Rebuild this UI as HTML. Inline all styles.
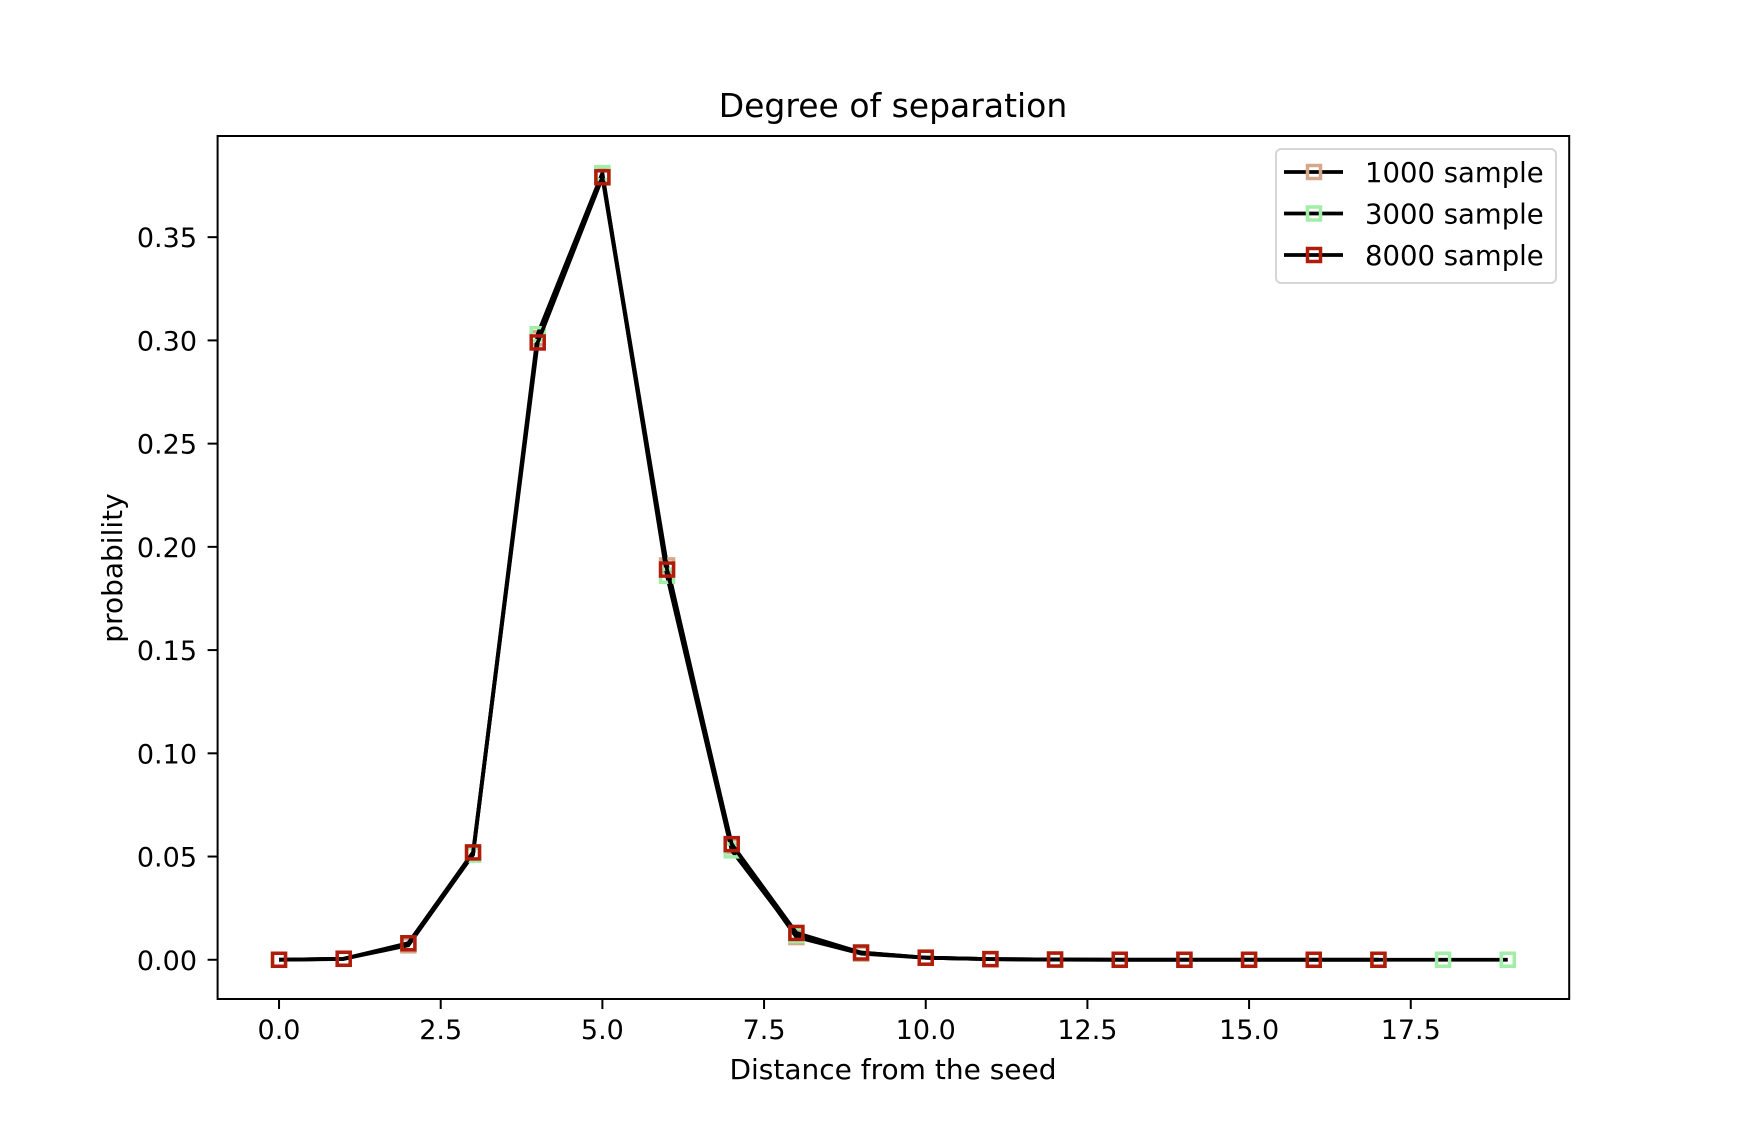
<!DOCTYPE html>
<html><head><meta charset="utf-8"><style>
html,body{margin:0;padding:0;background:#fff}
svg{display:block;font-family:"DejaVu Sans","Liberation Sans",sans-serif}
</style></head><body>
<svg id="chart" width="1744" height="1122" viewBox="0 0 1744 1122">
<rect width="1744" height="1122" fill="#fff"/>
<text x="893" y="117" font-size="33" text-anchor="middle">Degree of separation</text>
<g id="series"></g>
<rect x="217.6" y="136" width="1351.6" height="863" fill="none" stroke="#000" stroke-width="2"/>
<g id="xticks"></g><g id="yticks"></g>
<text x="893" y="1079" font-size="28" text-anchor="middle">Distance from the seed</text>
<text x="0" y="0" font-size="28" text-anchor="middle" transform="translate(122,568) rotate(-90)">probability</text>
<g id="legend"></g>
</svg>
<script>
const xs = [0,1,2,3,4,5,6,7,8,9,10,11,12,13,14,15,16,17,18,19];
const s1000 = [0,0.0005,0.007,0.051,0.301,0.380,0.191,0.055,0.011,0.003,0.001,0.0003,0.0001,0,0,0,0,0];
const s3000 = [0,0.0004,0.008,0.051,0.303,0.381,0.186,0.053,0.012,0.0035,0.001,0.0003,0.0001,0,0,0,0,0,0,0];
const s8000 = [0,0.0005,0.008,0.052,0.299,0.379,0.189,0.056,0.013,0.0035,0.001,0.0003,0.0001,0,0,0,0,0];
const xTickVals = [0,2.5,5,7.5,10,12.5,15,17.5];
const xTickLabels = ["0.0","2.5","5.0","7.5","10.0","12.5","15.0","17.5"];
const yTickVals = [0,0.05,0.10,0.15,0.20,0.25,0.30,0.35];
const yTickLabels = ["0.00","0.05","0.10","0.15","0.20","0.25","0.30","0.35"];
const seriesNames = ["1000 sample","3000 sample","8000 sample"];
const seriesColors = ["#d2a98a","#a0eea8","#b01b0b"];

const NS="http://www.w3.org/2000/svg";
const X0=217.6,X1=1569.2,Y0=999,Y1=136;
const xmin=-0.95,xmax=19.95,ymin=-0.019,ymax=0.399;
function sx(v){return X0+(v-xmin)/(xmax-xmin)*(X1-X0);}
function sy(v){return Y0-(v-ymin)/(ymax-ymin)*(Y0-Y1);}
function mk(tag,attrs,parent){const e=document.createElementNS(NS,tag);for(const k in attrs)e.setAttribute(k,attrs[k]);parent.appendChild(e);return e;}
const xt=document.getElementById('xticks'),yt=document.getElementById('yticks');
xTickVals.forEach((v,i)=>{
  const l=mk('line',{x1:sx(v),x2:sx(v),y1:Y0,y2:Y0+10,stroke:'#000','stroke-width':2},xt);
  
  
  const t=mk('text',{x:sx(v),y:1039,'font-size':27,'text-anchor':'middle'},xt);
  t.textContent=xTickLabels[i];
  
  
});
yTickVals.forEach((v,i)=>{
  const l=mk('line',{x1:X0-10,x2:X0,y1:sy(v),y2:sy(v),stroke:'#000','stroke-width':2},yt);
  
  
  const t=mk('text',{x:197,y:sy(v)+10,'font-size':27,'text-anchor':'end'},yt);
  t.textContent=yTickLabels[i];
  
  
});
const sg=document.getElementById('series');
const allSeries=[s1000,s3000,s8000];
allSeries.forEach((s,k)=>{
  const g=mk('g',{},sg);
  
  
  const pts=s.map((v,i)=>sx(xs[i])+','+sy(v)).join(' ');
  const pl=mk('polyline',{points:pts,fill:'none',stroke:'#000','stroke-width':3.8,'stroke-linejoin':'round'},g);
  
  
  s.forEach((v,i)=>{
    const r=mk('rect',{x:sx(xs[i])-6.5,y:sy(v)-6.5,width:13,height:13,fill:'none',stroke:seriesColors[k],'stroke-width':3.5},g);
    
    
  });
});
const lg=document.getElementById('legend');
const box=mk('rect',{x:1276,y:149,width:280,height:134,rx:5,fill:'#fff','fill-opacity':0.8,stroke:'#d6d6d6','stroke-width':2},lg);


seriesNames.forEach((n,k)=>{
  const y=172+k*41.5;
  const g=mk('g',{},lg);
  
  
  mk('line',{x1:1284,x2:1343,y1:y,y2:y,stroke:'#000','stroke-width':3.8},g);
  mk('rect',{x:1307.5,y:y-6.5,width:13,height:13,fill:'none',stroke:seriesColors[k],'stroke-width':3.5},g);
  const t=mk('text',{x:1365,y:y+10,'font-size':27.5},g);
  t.textContent=n;
  
  
});
</script>
</body></html>
